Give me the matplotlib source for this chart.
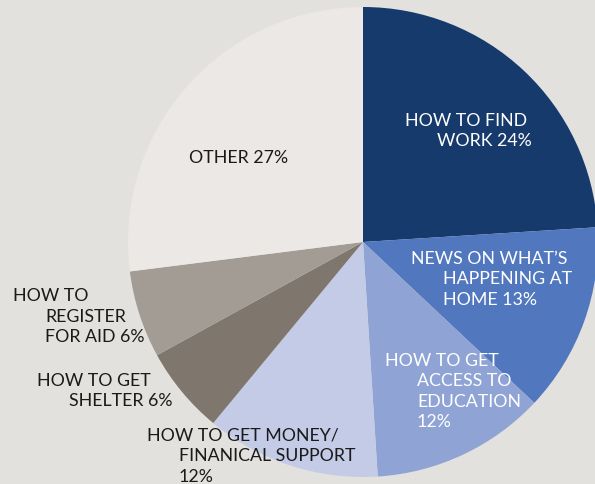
import matplotlib
matplotlib.use("Agg")
import matplotlib.pyplot as plt

# data
topics = ["HOW TO FIND WORK", "NEWS ON WHAT'S HAPPENING AT HOME", "HOW TO GET ACCESS TO EDUCATION",
          "HOW TO GET MONEY/FINANICAL SUPPORT", "HOW TO GET SHELTER", "HOW TO REGISTER FOR AID", "OTHER"]
shares = [24, 13, 12, 12, 6, 6, 27]
colors = ["#163a6b", "#5177bf", "#8fa3d4", "#c4cbe6", "#7f766e", "#a39c95", "#ebe8e6"]

# label lines (first line, then the indented ones)
label_lines = [
    ["HOW TO FIND", "WORK 24%"],
    ["NEWS ON WHAT\u2019S", "HAPPENING AT", "HOME 13%"],
    ["HOW TO GET", "ACCESS TO", "EDUCATION", "12%"],
    ["HOW TO GET MONEY/", "FINANICAL SUPPORT", "12%"],
    ["HOW TO GET", "SHELTER 6%"],
    ["HOW TO", "REGISTER", "FOR AID 6%"],
    ["OTHER 27%"],
]
label_pos = [(405, 121), (411, 259), (385, 361), (147, 436), (37, 381), (13, 296), (189, 158)]
label_col = ["white", "white", "white", "#1a1a1a", "#1a1a1a", "#1a1a1a", "#1a1a1a"]

W, H = 595, 485
bg = "#e2e1de"

fig = plt.figure(figsize=(W / 100, H / 100), dpi=100, facecolor=bg)
ax = fig.add_axes([0, 0, 1, 1])
ax.set_facecolor(bg)

ax.pie(shares, colors=colors, startangle=90, counterclock=False,
       center=(363, H - 243), radius=235, frame=True,
       wedgeprops=dict(linewidth=0))
ax.set_xlim(0, W)
ax.set_ylim(0, H)
ax.set_aspect("equal")
ax.axis("off")

for lines, (x0, y0), c in zip(label_lines, label_pos, label_col):
    for i, line in enumerate(lines):
        x = x0 if i == 0 else x0 + 32
        y = y0 + 20.5 * i
        ax.text(x, H - y, line, color=c, fontsize=12.8, family="Lato",
                ha="left", va="center")

fig.savefig("out.png", dpi=100, facecolor=bg)
